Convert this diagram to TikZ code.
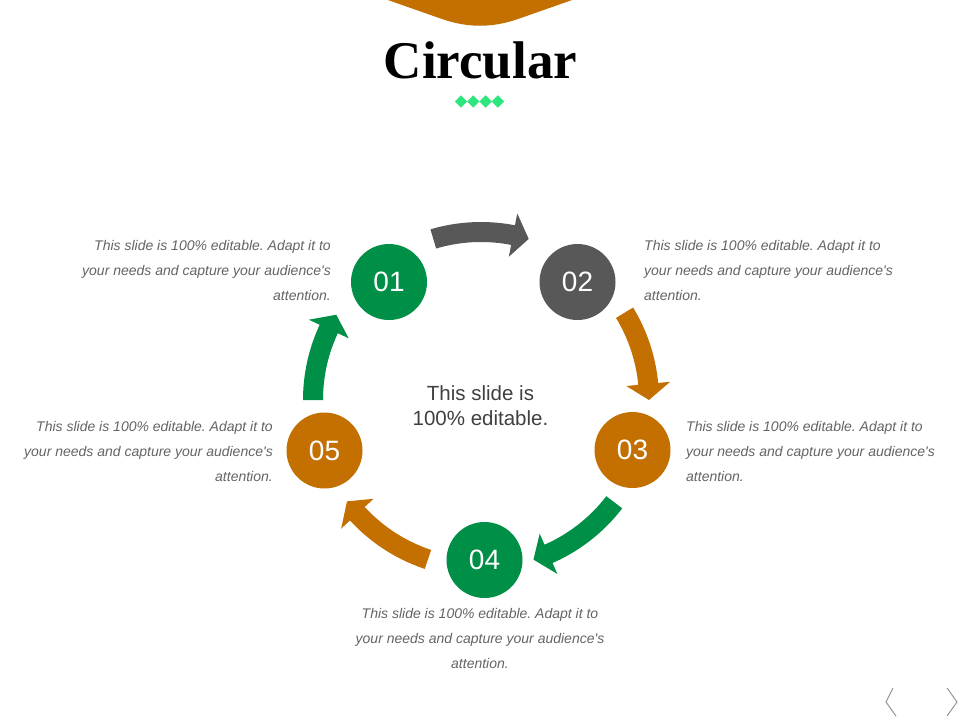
\documentclass[tikz,border=0pt]{standalone}
\usepackage{fontspec}
\setmainfont{Liberation Sans}
\newfontfamily\titlefont{Liberation Serif}
\usetikzlibrary{shapes.geometric}
\frenchspacing
\definecolor{cgreen}{RGB}{0,143,70}
\definecolor{corange}{RGB}{196,112,0}
\definecolor{cgray}{RGB}{88,88,88}
\definecolor{cmint}{RGB}{46,230,125}
\definecolor{ctext}{RGB}{100,100,100}
\definecolor{cdark}{RGB}{64,64,64}
\definecolor{cnav}{RGB}{150,150,150}
\newcommand{\cyclearrow}[4]{% name, colour, tail angle, tip angle
  \pgfmathsetmacro\arrA{#3}\pgfmathsetmacro\arrB{#4-5.5}\pgfmathsetmacro\arrC{#4}
  \coordinate (#1) at (\arrA:168);
  \fill[#2] plot[domain=\arrA:\arrB,samples=30] (\x:158) -- (\arrB:146) -- (\arrC:168)
    -- (\arrB:190) -- plot[domain=\arrB:\arrA,samples=30] (\x:178) -- cycle;}
\tikzset{
  numcircle/.style={circle, minimum size=76pt, inner sep=0pt, text=white,
    font=\fontsize{28}{32}\selectfont},
  desc/.style={inner sep=0pt, text=ctext, font=\itshape\fontsize{14}{25}\selectfont},
  navline/.style={cnav, line width=1pt},
}
\begin{document}
\begin{tikzpicture}[x=1pt,y=-1pt]
\fill[white] (0,0) rectangle (960,720);
\useasboundingbox (0,0) rectangle (960,720);
% top banner
\fill[corange] (385,-1) -- (575,-1) -- (518,19) .. controls (492,28) and (468,28) .. (442,19) -- cycle;
% title
\node[font=\titlefont\bfseries\fontsize{53}{60}\selectfont, anchor=base, inner sep=0pt] (title) at (480.5,78) {Circular};
% diamonds
\foreach \i/\xx in {1/461,2/473.3,3/485.6,4/497.9}
  \node[diamond, fill=cmint, inner sep=0pt, minimum width=12.5pt, minimum height=12.5pt] (dm\i) at (\xx,101.5) {};
% cycle arrows
\begin{scope}[shift={(481,400)}]
\cyclearrow{a12}{cgray}{-106.5}{-73.5}
\cyclearrow{a23}{corange}{-31.3}{0}
\cyclearrow{a34}{cgreen}{37.5}{71.8}
\cyclearrow{a45}{corange}{108.4}{142.9}
\cyclearrow{a51}{cgreen}{180}{210.5}
\end{scope}
% circles
\node[numcircle, fill=cgreen] (c1) at (389,282) {01};
\node[numcircle, fill=cgray] (c2) at (577.5,282) {02};
\node[numcircle, fill=corange] (c3) at (632.5,450) {03};
\node[numcircle, fill=cgreen] (c4) at (484.5,560) {04};
\node[numcircle, fill=corange] (c5) at (324.5,450.5) {05};
% centre text
\node[font=\fontsize{20.5}{25}\selectfont, text=cdark, align=center, inner sep=0pt] (ctr) at (480.5,406) {This slide is\\100\% editable.};
% descriptions
\node[desc, anchor=east, align=right] (d1) at (331,270) {This slide is 100\% editable. Adapt it to\\your needs and capture your audience\textquotesingle s\\attention.};
\node[desc, anchor=west, align=left] (d2) at (644,270) {This slide is 100\% editable. Adapt it to\\your needs and capture your audience\textquotesingle s\\attention.};
\node[desc, anchor=west, align=left] (d3) at (686,451) {This slide is 100\% editable. Adapt it to\\your needs and capture your audience\textquotesingle s\\attention.};
\node[desc, align=center] (d4) at (480,638) {This slide is 100\% editable. Adapt it to\\your needs and capture your audience\textquotesingle s\\attention.};
\node[desc, anchor=east, align=right] (d5) at (273,451) {This slide is 100\% editable. Adapt it to\\your needs and capture your audience\textquotesingle s\\attention.};
% navigation chevrons
\draw[navline] (893,688) -- (886,702) -- (896,716);
\draw[navline] (947,688) -- (957,702) -- (947,716);
\end{tikzpicture}
\end{document}
